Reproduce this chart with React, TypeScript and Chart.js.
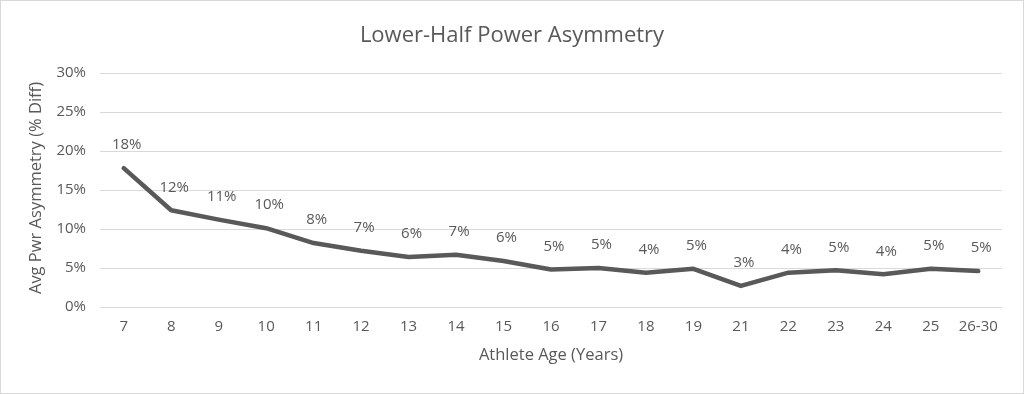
import React, { useEffect, useRef } from "react";
import { Chart, registerables } from "chart.js";

Chart.register(...registerables);

const categories = ["7","8","9","10","11","12","13","14","15","16","17","18","19","21","22","23","24","25","26-30"];
const asymmetry = [17.8,12.4,11.2,10.1,8.2,7.2,6.4,6.7,5.9,4.8,5.0,4.4,4.9,2.7,4.4,4.7,4.2,4.9,4.6];
const yTicks = [0,5,10,15,20,25,30];
const titleText = "Lower-Half Power Asymmetry";
const xTitle = "Athlete Age (Years)";
const yTitle = "Avg Pwr Asymmetry (% Diff)";

const FONT = "'Open Sans', 'Noto Sans', sans-serif";
const TEXT = "#595959";

export default function App() {
  const ref = useRef<HTMLCanvasElement>(null);
  useEffect(() => {
    document.body.style.margin = "0";
    const textPlugin = {
      id: "texts",
      afterDatasetsDraw(chart: any) {
        const ctx = chart.ctx;
        const area = chart.chartArea;
        ctx.save();
        ctx.fillStyle = TEXT;
        ctx.textAlign = "center";
        ctx.textBaseline = "middle";
        ctx.font = `22px ${FONT}`;
        ctx.fillText(titleText, 511, 35);
        ctx.font = `16.5px ${FONT}`;
        ctx.fillText(xTitle, (area.left + area.right) / 2, 354);
        ctx.save();
        ctx.translate(35, 187);
        ctx.rotate(-Math.PI / 2);
        ctx.fillText(yTitle, 0, 0);
        ctx.restore();
        const meta = chart.getDatasetMeta(0);
        ctx.font = `15px ${FONT}`;
        meta.data.forEach((pt: any, i: number) => {
          ctx.fillText(Math.round(asymmetry[i]) + "%", pt.x + 3, pt.y - 23);
        });
        ctx.restore();
      },
    };
    const chart = new Chart(ref.current!, {
      type: "line",
      data: {
        labels: categories,
        datasets: [
          {
            data: asymmetry,
            borderColor: "#595959",
            borderWidth: 4.5,
            pointRadius: 0,
            tension: 0,
            fill: false,
            borderCapStyle: "round",
            borderJoinStyle: "round",
          },
        ],
      },
      options: {
        animation: false,
        responsive: false,
        layout: { padding: { top: 72, left: 0, right: 21, bottom: 0 } },
        plugins: { legend: { display: false }, tooltip: { enabled: false }, title: { display: false } },
        scales: {
          x: {
            offset: true,
            grid: { display: false, drawTicks: false },
            border: { display: false },
            ticks: { color: TEXT, font: { family: FONT, size: 15 }, padding: 11, maxRotation: 0, autoSkip: false },
            afterFit(scale: any) {
              scale.height = 86;
            },
          },
          y: {
            min: 0,
            max: 30,
            afterBuildTicks(scale: any) {
              scale.ticks = yTicks.map((v) => ({ value: v }));
            },
            grid: { color: "#d9d9d9", lineWidth: 1, drawTicks: false },
            border: { display: false },
            ticks: {
              color: TEXT,
              font: { family: FONT, size: 15 },
              padding: 14,
              callback: (v: any) => v + "%",
            },
            afterFit(scale: any) {
              scale.width = 99;
            },
          },
        },
      },
      plugins: [textPlugin],
    });
    return () => chart.destroy();
  }, []);
  return (
    <div
      style={{
        position: "absolute",
        left: 0,
        top: 0,
        width: 1024,
        height: 394,
        boxSizing: "border-box",
        border: "1px solid #d9d9d9",
        background: "#fff",
      }}
    >
      <canvas ref={ref} width={1022} height={392} style={{ display: "block" }} />
    </div>
  );
}
